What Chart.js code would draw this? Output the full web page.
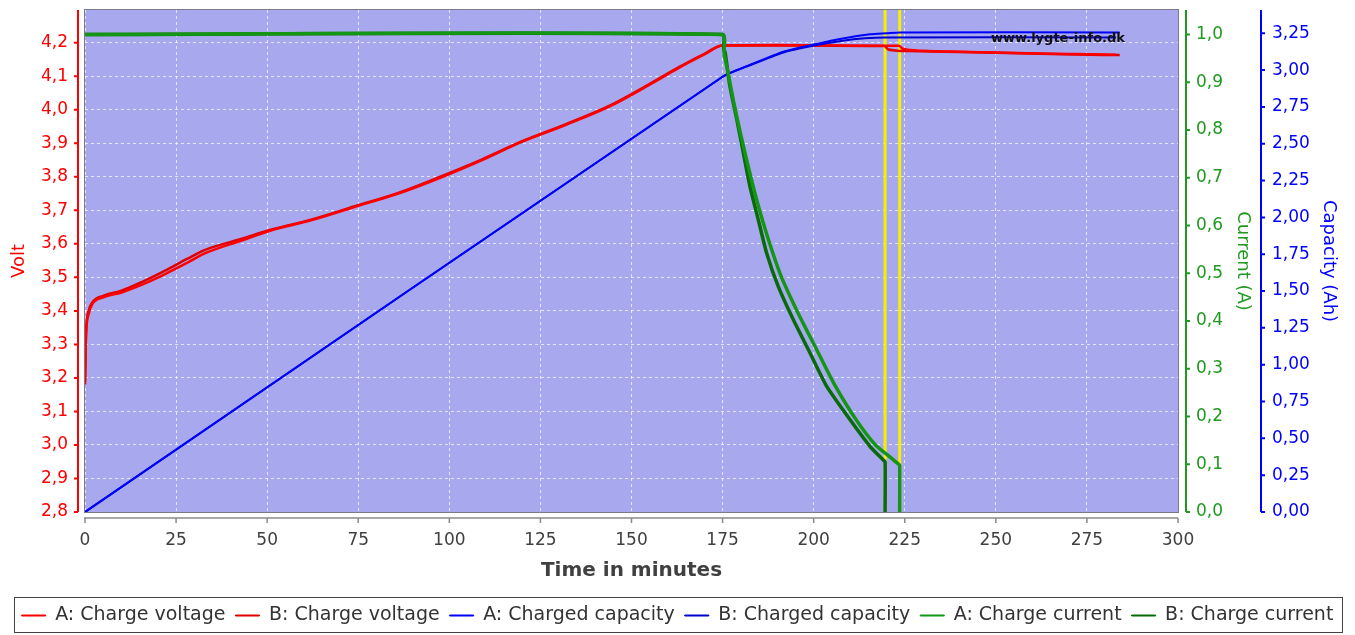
<!DOCTYPE html>
<html>
<head>
<meta charset="utf-8">
<script src="https://cdn.jsdelivr.net/npm/chart.js@4.4.0/dist/chart.umd.min.js"></script>
<style>
  html, body { margin: 0; padding: 0; background: #fff; }
</style>
</head>
<body>
<canvas id="chargeChart" width="1355" height="635"></canvas>
<script>
// --- Data ---

// Charge voltage (V)
const timeVoltA = [0, 0.3, 1, 2, 5, 10, 16, 22, 28, 33, 43, 51, 62, 74, 86, 97, 109, 120, 132, 144, 155, 163, 170, 175, 190, 205, 223.4, 224.5, 230, 240, 250, 262, 272, 283];
const voltA     = [3.18, 3.33, 3.39, 3.42, 3.44, 3.455, 3.48, 3.51, 3.543, 3.572, 3.61, 3.64, 3.67, 3.71, 3.75, 3.795, 3.85, 3.905, 3.955, 4.01, 4.075, 4.125, 4.165, 4.192, 4.193, 4.192, 4.191, 4.182, 4.176, 4.173, 4.171, 4.168, 4.166, 4.164];
const timeVoltB = [0, 0.3, 1, 2, 5, 10, 16, 22, 28, 33, 43, 51, 62, 74, 86, 97, 109, 120, 132, 144, 155, 163, 170, 175, 190, 205, 219.4, 220.5, 226, 240, 250, 262, 272, 284];
const voltB     = [3.19, 3.34, 3.40, 3.425, 3.445, 3.46, 3.488, 3.52, 3.555, 3.582, 3.615, 3.642, 3.672, 3.712, 3.752, 3.798, 3.852, 3.906, 3.957, 4.012, 4.077, 4.127, 4.167, 4.192, 4.192, 4.191, 4.19, 4.18, 4.175, 4.172, 4.17, 4.167, 4.165, 4.163];

// Charged capacity (Ah)
const timeCapA = [0, 175, 182.5, 191.7, 200.4, 208, 215.5, 220, 223.6, 284];
const capA     = [0, 2.955, 3.035, 3.125, 3.176, 3.215, 3.243, 3.25, 3.256, 3.256];
const timeCapB = [0, 175, 182.5, 191.7, 200.4, 208, 214, 219.6, 283];
const capB     = [0, 2.955, 3.033, 3.12, 3.168, 3.2, 3.216, 3.222, 3.222];

// Charge current (A)
const timeCurA = [0, 175, 175.4, 176.5, 178, 180, 182, 184.5, 187.6, 191, 195.5, 200.5, 205.5, 211.5, 217, 221, 223.3, 223.6, 223.6];
const curA     = [1.0, 1.0, 0.96, 0.92, 0.86, 0.79, 0.725, 0.65, 0.57, 0.495, 0.42, 0.345, 0.27, 0.195, 0.14, 0.115, 0.1, 0.098, 0];
const timeCurB = [0, 175, 175.3, 175.7, 177, 178.9, 180.7, 182.5, 184.8, 187.1, 190.3, 194.4, 199, 203.6, 210, 215.5, 219.1, 219.6, 219.6];
const curB     = [1.0, 1.0, 0.97, 0.962, 0.892, 0.822, 0.752, 0.682, 0.612, 0.542, 0.472, 0.403, 0.333, 0.263, 0.193, 0.137, 0.109, 0.105, 0];

// Charge end markers (minutes)
const markerTimes = [219.6, 223.6];

// Axis ranges
const timeRange = [0, 300];
const voltRange = [2.8, 4.2976];
const currentRange = [0, 1.0513];
const capacityRange = [0, 3.408];

const FONT = "DejaVu Sans";
const RED = "#ff0000";
const GREEN = "#1f9a1f";
const BLUE = "#0000ff";

function toPoints(xs, ys) {
    return xs.map((x, i) => ({ x: x, y: ys[i] }));
}

function commaFmt(digits) {
    return function(value) {
        return Number(value).toFixed(digits).replace(".", ",");
    };
}

// fixed axis sizes so the plot area lands where the original has it
function fixSize(prop, size) {
    return function(scale) {
        scale[prop] = size;
        scale.paddingTop = 0;
        scale.paddingBottom = 0;
        scale.paddingLeft = 0;
        scale.paddingRight = 0;
    };
}

// --- Frame, axis lines, markers, watermark and legend border ---
const framePlugin = {
    id: "frame",
    beforeDraw(chart) {
        const { ctx, chartArea: ca } = chart;
        ctx.save();
        ctx.fillStyle = "#a8a8ee";
        ctx.fillRect(ca.left, ca.top, ca.right - ca.left, ca.bottom - ca.top);
        ctx.restore();
    },
    beforeDatasetsDraw(chart) {
        const { ctx, chartArea: ca, scales } = chart;
        ctx.save();
        // yellow charge-end markers
        ctx.strokeStyle = "#f4f000";
        ctx.lineWidth = 3;
        markerTimes.forEach(t => {
            const px = scales.x.getPixelForValue(t);
            ctx.beginPath();
            ctx.moveTo(px, ca.top);
            ctx.lineTo(px, ca.bottom);
            ctx.stroke();
        });
        // plot frame
        ctx.strokeStyle = "#7a7a8a";
        ctx.lineWidth = 1;
        ctx.strokeRect(ca.left - 0.5, ca.top - 0.5, ca.right - ca.left + 1, ca.bottom - ca.top + 1);
        ctx.restore();
    },
    afterDatasetsDraw(chart) {
        const { ctx, chartArea: ca } = chart;
        ctx.save();
        ctx.fillStyle = "#111";
        ctx.font = "bold 13px " + FONT;
        ctx.textAlign = "right";
        ctx.textBaseline = "middle";
        ctx.fillText("www.lygte-info.dk", ca.right - 53, ca.top + 29);
        ctx.restore();
    },
    afterDraw(chart) {
        const { ctx, chartArea: ca, scales } = chart;
        ctx.save();
        ctx.lineWidth = 2;

        // left voltage axis
        const xv = ca.left - 7;
        ctx.strokeStyle = RED;
        ctx.beginPath();
        ctx.moveTo(xv, ca.top);
        ctx.lineTo(xv, ca.bottom);
        scales.yVolt.ticks.forEach(t => {
            const py = scales.yVolt.getPixelForValue(t.value);
            ctx.moveTo(xv - 4, py);
            ctx.lineTo(xv, py);
        });
        ctx.stroke();

        // current axis
        const xc = ca.right + 8;
        ctx.strokeStyle = GREEN;
        ctx.beginPath();
        ctx.moveTo(xc, ca.top);
        ctx.lineTo(xc, ca.bottom);
        scales.yCurrent.ticks.forEach(t => {
            const py = scales.yCurrent.getPixelForValue(t.value);
            ctx.moveTo(xc, py);
            ctx.lineTo(xc + 4, py);
        });
        ctx.stroke();

        // capacity axis
        const xa = scales.yCapacity.left;
        ctx.strokeStyle = BLUE;
        ctx.beginPath();
        ctx.moveTo(xa, ca.top);
        ctx.lineTo(xa, ca.bottom);
        scales.yCapacity.ticks.forEach(t => {
            const py = scales.yCapacity.getPixelForValue(t.value);
            ctx.moveTo(xa, py);
            ctx.lineTo(xa + 4, py);
        });
        ctx.stroke();

        // time axis
        const yt = ca.bottom + 6;
        ctx.strokeStyle = "#8a8a8a";
        ctx.lineWidth = 1.5;
        ctx.beginPath();
        ctx.moveTo(ca.left - 1, yt);
        ctx.lineTo(ca.right, yt);
        scales.x.ticks.forEach(t => {
            const px = scales.x.getPixelForValue(t.value);
            ctx.moveTo(px, yt);
            ctx.lineTo(px, yt + 5);
        });
        ctx.stroke();

        // legend border
        const boxes = chart.legend.legendHitBoxes;
        if (boxes && boxes.length) {
            const left = Math.min(...boxes.map(b => b.left));
            const right = Math.max(...boxes.map(b => b.left + b.width));
            const top = boxes[0].top;
            const h = boxes[0].height;
            ctx.strokeStyle = "#444";
            ctx.lineWidth = 1;
            ctx.strokeRect(Math.round(left - 8) + 0.5, Math.round(top - 9) + 0.5, Math.round(right - left + 16), Math.round(h + 16));
        }
        ctx.restore();
    }
};

const lineBase = { pointRadius: 0, fill: false, spanGaps: true };

new Chart(document.getElementById("chargeChart"), {
    type: "line",
    data: {
        datasets: [
            { ...lineBase, label: "A: Charge voltage", data: toPoints(timeVoltA, voltA), borderColor: "#ff0000", borderWidth: 2.5, yAxisID: "yVolt", order: 3, cubicInterpolationMode: "monotone" },
            { ...lineBase, label: "B: Charge voltage", data: toPoints(timeVoltB, voltB), borderColor: "#e00000", borderWidth: 2.5, yAxisID: "yVolt", order: 3, cubicInterpolationMode: "monotone" },
            { ...lineBase, label: "A: Charged capacity", data: toPoints(timeCapA, capA), borderColor: "#0000ff", borderWidth: 2, yAxisID: "yCapacity", order: 2, tension: 0.2 },
            { ...lineBase, label: "B: Charged capacity", data: toPoints(timeCapB, capB), borderColor: "#0000d0", borderWidth: 2, yAxisID: "yCapacity", order: 2, tension: 0.2 },
            { ...lineBase, label: "A: Charge current", data: toPoints(timeCurA, curA), borderColor: "#149614", borderWidth: 3.5, yAxisID: "yCurrent", order: 1, tension: 0.2 },
            { ...lineBase, label: "B: Charge current", data: toPoints(timeCurB, curB), borderColor: "#086a08", borderWidth: 3.5, yAxisID: "yCurrent", order: 1, tension: 0.2 }
        ]
    },
    options: {
        responsive: false,
        animation: false,
        layout: { padding: { top: 10, left: 0, right: 0, bottom: 0 } },
        plugins: {
            tooltip: { enabled: false },
            legend: {
                position: "bottom",
                labels: {
                    boxWidth: 24,
                    boxHeight: 1,
                    padding: 10,
                    color: "#333",
                    font: { family: FONT, size: 19 },
                    generateLabels: chart => chart.data.datasets.map((ds, i) => ({
                        text: ds.label,
                        fillStyle: ds.borderColor,
                        strokeStyle: ds.borderColor,
                        lineWidth: 1,
                        hidden: false,
                        datasetIndex: i,
                        fontColor: "#333"
                    }))
                }
            }
        },
        scales: {
            x: {
                type: "linear",
                min: timeRange[0],
                max: timeRange[1],
                afterFit: fixSize("height", 84),
                grid: { color: "rgba(255,255,255,0.7)", drawTicks: false },
                border: { display: false, dash: [3, 3] },
                ticks: {
                    stepSize: 25,
                    padding: 18,
                    color: "#404040",
                    font: { family: FONT, size: 17 },
                    callback: v => String(v)
                },
                title: {
                    display: true,
                    text: "Time in minutes",
                    color: "#404040",
                    font: { family: FONT, size: 20, weight: "bold" },
                    padding: { top: 0, bottom: 13 }
                }
            },
            yVolt: {
                position: "left",
                min: voltRange[0],
                max: voltRange[1],
                afterFit: fixSize("width", 85),
                grid: { color: "rgba(255,255,255,0.7)", drawTicks: false },
                border: { display: false, dash: [3, 3] },
                ticks: {
                    stepSize: 0.1,
                    includeBounds: false,
                    padding: 17,
                    color: RED,
                    font: { family: FONT, size: 17 },
                    callback: commaFmt(1)
                },
                title: {
                    display: true,
                    text: "Volt",
                    color: RED,
                    font: { family: FONT, size: 18 },
                    padding: { top: 9, bottom: 0 }
                }
            },
            yCurrent: {
                position: "right",
                min: currentRange[0],
                max: currentRange[1],
                afterFit: fixSize("width", 83),
                grid: { drawOnChartArea: false, drawTicks: false },
                border: { display: false },
                ticks: {
                    stepSize: 0.1,
                    includeBounds: false,
                    padding: 18,
                    color: GREEN,
                    font: { family: FONT, size: 17 },
                    callback: commaFmt(1)
                },
                title: {
                    display: true,
                    text: "Current (A)",
                    color: GREEN,
                    font: { family: FONT, size: 18 },
                    padding: { top: 8, bottom: 0 }
                }
            },
            yCapacity: {
                position: "right",
                min: capacityRange[0],
                max: capacityRange[1],
                afterFit: fixSize("width", 94),
                grid: { drawOnChartArea: false, drawTicks: false },
                border: { display: false },
                ticks: {
                    stepSize: 0.25,
                    includeBounds: false,
                    padding: 11,
                    color: BLUE,
                    font: { family: FONT, size: 17 },
                    callback: commaFmt(2)
                },
                title: {
                    display: true,
                    text: "Capacity (Ah)",
                    color: BLUE,
                    font: { family: FONT, size: 18 },
                    padding: { top: 16, bottom: 0 }
                }
            }
        }
    },
    plugins: [framePlugin]
});
</script>
</body>
</html>
